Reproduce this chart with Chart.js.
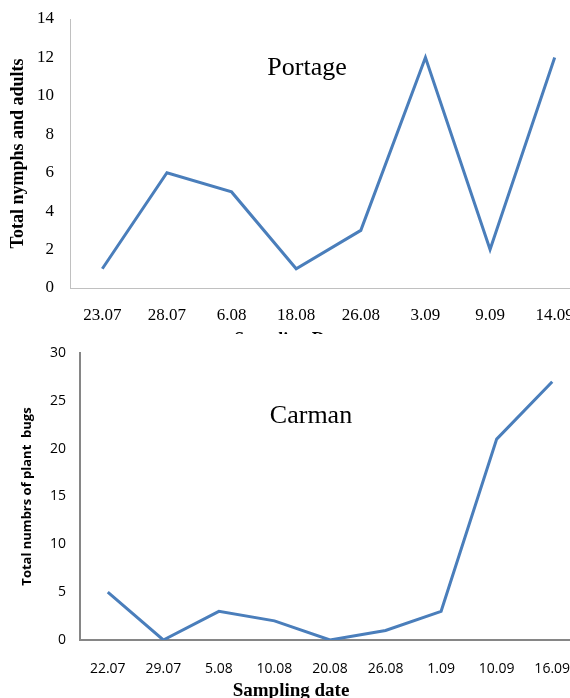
<!DOCTYPE html>
<html>
<head>
<meta charset="utf-8">
<script src="https://cdn.jsdelivr.net/npm/chart.js@4"></script>
<style>
  html, body { margin: 0; padding: 0; background: #fff; overflow: hidden; }
  #page { position: relative; width: 570px; height: 698px; overflow: hidden; }
  .box { position: absolute; left: 0; overflow: hidden; width: 570px; }
  #topBox { top: 0; height: 334px; }
  #bottomBox { top: 340px; height: 358px; }
  .box canvas { position: absolute; left: 0; top: 0; }
</style>
</head>
<body>
<div id="page">
  <div class="box" id="topBox"><canvas id="portageCanvas" width="600" height="370"></canvas></div>
  <div class="box" id="bottomBox"><canvas id="carmanCanvas" width="600" height="370"></canvas></div>
</div>
<script>
// Datos: Portage
var portageDates = ["23.07", "28.07", "6.08", "18.08", "26.08", "3.09", "9.09", "14.09"];
var portageCounts = [1, 6, 5, 1, 3, 12, 2, 12];
var portageTicks = [0, 2, 4, 6, 8, 10, 12, 14];

// Datos: Carman
var carmanDates = ["22.07", "29.07", "5.08", "10.08", "20.08", "26.08", "1.09", "10.09", "16.09"];
var carmanCounts = [5, 0, 3, 2, 0, 1, 3, 21, 27];
var carmanTicks = [0, 5, 10, 15, 20, 25, 30];

var lineBlue = "#4a7ebb";
var serif = "'Liberation Serif', 'Times New Roman', serif";
var sans = "'Open Sans', 'Liberation Sans', sans-serif";

// Textos libres (titulo interior y titulo del eje x)
var freeTexts = {
  id: "freeTexts",
  afterDraw: function (chart, args, opts) {
    var ctx = chart.ctx;
    opts.items.forEach(function (it) {
      ctx.save();
      ctx.font = it.font;
      ctx.fillStyle = "#000";
      ctx.textAlign = "center";
      ctx.textBaseline = "middle";
      ctx.fillText(it.text, it.x, it.y);
      ctx.restore();
    });
  },
};

function makeChart(canvasId, dates, counts, ticks, cfg) {
  var ctx = document.getElementById(canvasId).getContext("2d");
  return new Chart(ctx, {
    type: "line",
    data: {
      labels: dates,
      datasets: [
        {
          data: counts,
          borderColor: lineBlue,
          borderWidth: 3,
          pointRadius: 0,
          tension: 0,
          fill: false,
        },
      ],
    },
    options: {
      responsive: false,
      animation: false,
      layout: { padding: { top: cfg.top, right: cfg.right, left: 0, bottom: 0 } },
      plugins: {
        legend: { display: false },
        tooltip: { enabled: false },
        freeTexts: { items: cfg.texts },
      },
      scales: {
        x: {
          offset: true,
          grid: { display: false, drawTicks: false },
          border: { color: cfg.axisColor, width: cfg.axisWidth },
          ticks: { color: "#000", font: cfg.tickFont, padding: cfg.xPad, maxRotation: 0, autoSkip: false },
          afterFit: function (scale) {
            scale.height = cfg.xHeight;
            scale.paddingLeft = 0;
            scale.paddingRight = 0;
          },
        },
        y: {
          min: ticks[0],
          max: ticks[ticks.length - 1],
          afterBuildTicks: function (scale) {
            scale.ticks = ticks.map(function (v) { return { value: v }; });
          },
          grid: { display: false, drawTicks: false },
          border: { color: cfg.axisColor, width: cfg.axisWidth },
          ticks: { color: "#000", font: cfg.tickFont, padding: cfg.yPad },
          title: { display: true, text: cfg.yTitle, color: "#000", font: cfg.yTitleFont, padding: { top: cfg.yTitlePad, bottom: 0 } },
          afterFit: function (scale) {
            scale.width = cfg.yWidth;
            scale.paddingTop = 0;
            scale.paddingBottom = 0;
          },
        },
      },
    },
    plugins: [freeTexts],
  });
}

var portageChart = makeChart("portageCanvas", portageDates, portageCounts, portageTicks, {
  top: 19, right: 13,
  axisColor: "#c0c0c0", axisWidth: 1,
  tickFont: { family: serif, size: 17 },
  xPad: 17, xHeight: 82,
  yPad: 16, yWidth: 70,
  yTitle: "Total nymphs and adults", yTitleFont: { family: serif, size: 18, weight: "bold" }, yTitlePad: 8,
  texts: [
    { text: "Portage", font: "26px " + serif, x: 307, y: 68 },
    { text: "Sampling Date", font: "bold 18px " + serif, x: 291, y: 340 },
  ],
});

var carmanChart = makeChart("carmanCanvas", carmanDates, carmanCounts, carmanTicks, {
  top: 13, right: 20,
  axisColor: "#868686", axisWidth: 2,
  tickFont: { family: sans, size: 14 },
  xPad: 21, xHeight: 70,
  yPad: 14, yWidth: 80,
  yTitle: "Total numbrs of plant  bugs", yTitleFont: { family: sans, size: 13, weight: "bold" }, yTitlePad: 19,
  texts: [
    { text: "Carman", font: "26px " + serif, x: 311, y: 76 },
    { text: "Sampling date", font: "bold 19px " + serif, x: 291, y: 351 },
  ],
});
</script>
</body>
</html>
